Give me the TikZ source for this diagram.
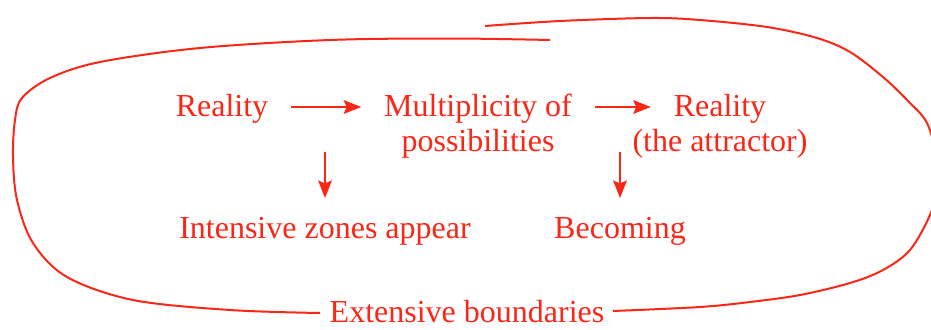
\documentclass[tikz,border=0pt]{standalone}
\usepackage{fontspec}
\setmainfont{Liberation Serif}
\usetikzlibrary{arrows.meta}
\definecolor{inkred}{RGB}{250,38,22}

\begin{document}
\begin{tikzpicture}[x=0.75pt, y=-0.75pt,
  label/.style={text=inkred, font=\fontsize{24}{28}\selectfont, text height=19pt, text depth=5pt, inner sep=8pt},
  flow/.style={draw=inkred, line width=2.2pt, -{Stealth[length=13pt,width=10pt,inset=2pt]}, shorten <=9pt, shorten >=9pt},
  drop/.style={draw=inkred, line width=2.2pt, -{Stealth[length=13pt,width=10pt,inset=2pt]}, shorten >=3pt},
  boundary/.style={draw=inkred, line width=1.5pt}
]
\useasboundingbox (0,0) rectangle (931,329);

\node[label] (reality) at (222,107) {Reality};
\node[label] (multi) at (478,107) {Multiplicity of};
\node[label] (poss) at (478,142.5) {possibilities};
\node[label] (attractor) at (720,107) {Reality};
\node[label] (attrnote) at (720,142.5) {(the attractor)};
\node[label] (intensive) at (325,229) {Intensive zones appear};
\node[label] (becoming) at (620,229) {Becoming};
\node[label, text depth=0pt, inner ysep=0pt] (extensive) at (467,309.5) {Extensive boundaries};

\coordinate (drop1) at (325,152);
\coordinate (drop2) at (620,152);

\draw[flow] (reality) -- (multi);
\draw[flow] (multi) -- (attractor);
\draw[drop] (drop1) -- (intensive);
\draw[drop] (drop2) -- (becoming);

% the hand drawn outline, left half then right half
\draw[boundary] plot[smooth, tension=0.55] coordinates {(550,40) (450,38.5) (330,40) (200,48) (100,62) (50,78) (22,98) (15,120) (13,157) (17,200) (33,243) (67,277) (133,300) (230,310) (320,313)};
\draw[boundary] plot[smooth, tension=0.55] coordinates {(485,26) (560,21) (650,18) (700,20) (767,27) (817,38) (850,52) (883,77) (907,100) (927,123) (937,160) (936,190) (930,215) (910,250) (883,270) (850,283) (800,295) (750,302) (700,307) (613,311)};
\end{tikzpicture}
\end{document}
